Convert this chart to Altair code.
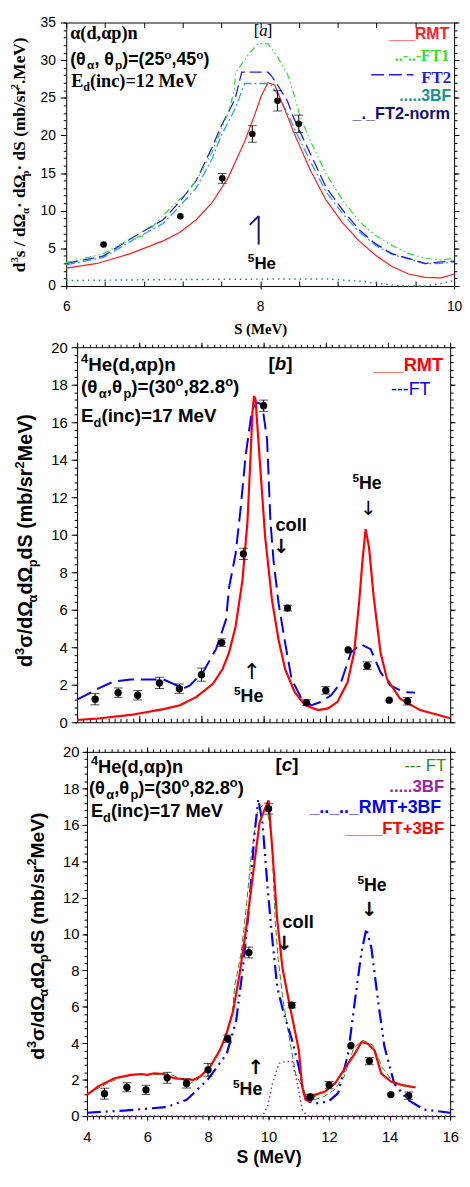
import altair as alt
import pandas as pd

SANS = "Liberation Sans"
SERIF = "Liberation Serif"
SYM = "DejaVu Sans"

# ---------------- panel [a] : alpha(d,alpha p)n, Ed = 12 MeV ----------------
a_exp_S = [6.385, 7.177, 7.609, 7.919, 8.179, 8.398]
a_exp_Y = [5.52, 9.27, 14.3, 20.2, 24.6, 21.55]
a_exp_E = [0.0, 0.0, 0.65, 1.1, 1.35, 1.15]

a_rmt_S = [6.0, 6.32, 6.66, 7.0, 7.17, 7.34, 7.50, 7.67, 7.84, 7.94, 8.01, 8.08, 8.15,
           8.21, 8.28, 8.35, 8.52, 8.68, 8.85, 9.02, 9.19, 9.36, 9.53, 9.70, 9.87, 10.0]
a_rmt_Y = [2.37, 3.0, 4.3, 6.0, 7.1, 8.8, 11.0, 14.4, 19.2, 22.6, 25.2, 27.0, 26.7,
           24.8, 22.6, 20.3, 15.3, 11.4, 8.4, 6.0, 4.1, 2.6, 1.6, 1.16, 1.08, 1.6]

a_ft1_S = [6.0, 6.385, 6.66, 6.8, 7.07, 7.25, 7.34, 7.5, 7.59, 7.67, 7.735, 7.745, 7.88,
           7.98, 8.08, 8.18, 8.28, 8.35, 8.41, 8.52, 8.68, 8.85, 9.02, 9.19, 9.36, 9.53,
           9.7, 9.87, 10.0]
a_ft1_Y = [3.1, 4.3, 6.25, 6.7, 10.3, 12.5, 14.0, 17.7, 20.5, 23.0, 26.0, 28.3, 30.8,
           32.2, 32.2, 30.4, 28.2, 25.4, 22.6, 19.2, 14.9, 11.4, 8.6, 6.7, 5.4, 4.3,
           3.7, 3.45, 3.7]

a_ft2_S = [6.0, 6.385, 6.66, 7.0, 7.17, 7.34, 7.5, 7.6, 7.74, 7.81, 8.08, 8.11, 8.18,
           8.28, 8.35, 8.52, 8.68, 8.85, 9.02, 9.19, 9.36, 9.53, 9.7, 9.87, 10.0]
a_ft2_Y = [3.0, 4.0, 6.25, 8.8, 11.2, 14.0, 18.3, 21.3, 24.8, 28.4, 28.4, 28.0, 26.7,
           24.6, 22.2, 17.5, 13.1, 10.1, 7.5, 5.6, 4.3, 3.66, 3.0, 3.2, 3.3]

a_ft2n_S = [6.0, 6.385, 6.66, 7.0, 7.17, 7.34, 7.5, 7.6, 7.74, 7.84, 8.1, 8.18, 8.28,
            8.35, 8.52, 8.68, 8.85, 9.02, 9.19, 9.36, 9.53, 9.7, 9.87, 10.0]
a_ft2n_Y = [2.8, 3.8, 5.9, 8.3, 10.6, 13.0, 16.8, 20.0, 23.5, 26.9, 26.9, 25.5, 23.0,
            21.0, 16.5, 12.5, 9.6, 7.2, 5.4, 4.2, 3.6, 2.95, 3.0, 3.2]

a_3bf_S = [6.0, 7.0, 8.0, 8.68, 9.02, 9.36, 9.5, 9.7, 9.87, 10.0]
a_3bf_Y = [0.73, 0.85, 0.92, 0.95, 0.65, 0.13, 0.0, 0.0, 0.35, 0.73]

# ---------------- panels [b] and [c] : 4He(d,alpha p)n, Ed = 17 MeV ----------------
bc_exp_S = [4.58, 5.32, 5.95, 6.65, 7.29, 8.0, 8.65, 9.35, 10.0, 10.77, 11.38, 12.0,
            12.72, 13.33, 14.04, 14.63]
bc_exp_Y = [1.23, 1.58, 1.44, 2.1, 1.79, 2.54, 4.25, 8.98, 16.88, 6.09, 1.05, 1.7,
            3.86, 3.02, 1.18, 1.12]
bc_exp_E = [0.3, 0.25, 0.25, 0.3, 0.25, 0.35, 0.2, 0.3, 0.3, 0.15, 0.15, 0.2,
            0.0, 0.2, 0.0, 0.2]

b_rmt_S = [4.0, 4.67, 5.72, 6.78, 7.31, 7.84, 8.37, 8.68, 8.89, 9.1, 9.32, 9.48, 9.58,
           9.64, 9.69, 9.74, 9.79, 9.9, 10.05, 10.27, 10.48, 10.69, 11.0, 11.33, 11.75,
           12.07, 12.38, 12.7, 12.91, 13.07, 13.18, 13.28, 13.39, 13.54, 13.76, 13.97,
           14.39, 15.03, 16.0]
b_rmt_Y = [0.12, 0.2, 0.39, 0.7, 0.91, 1.35, 2.05, 2.84, 3.72, 5.12, 7.58, 10.7, 14.2,
           16.5, 17.4, 17.2, 16.0, 13.4, 9.86, 6.5, 4.4, 2.84, 1.6, 0.91, 0.65,
           0.74, 1.09, 2.14, 3.72, 6.35, 8.63, 10.3, 9.33, 6.7, 3.72, 2.3,
           1.26, 0.65, 0.21]

ft_S = [4.0, 4.67, 5.19, 5.72, 6.25, 6.78, 7.10, 7.41, 7.63, 8.05, 8.47, 8.79, 8.89,
        9.1, 9.26, 9.42, 9.63, 9.79, 9.95, 10.11, 10.22, 10.32, 10.48, 10.69, 10.90,
        11.22, 11.54, 11.85, 12.17, 12.49, 12.81, 13.12, 13.44, 13.76, 14.07, 14.50, 14.87]
ft_Y = [1.21, 1.79, 2.18, 2.28, 2.28, 2.28, 2.05, 1.8, 1.97, 2.67, 3.9, 5.47, 7.2,
        9.0, 11.4, 14.2, 16.7, 17.05, 16.96, 15.1, 10.7, 8.6, 6.35, 4.25, 2.3,
        1.26, 0.91, 1.09, 1.44, 2.14, 3.72, 4.16, 3.9, 2.67, 1.97, 1.61, 1.58]

c_ft3bf_S = [4.0, 4.37, 4.91, 5.46, 5.78, 6.0, 6.22, 6.54, 6.87, 7.2, 7.52, 7.74, 8.07,
             8.39, 8.61, 8.83, 9.04, 9.26, 9.48, 9.7, 9.86, 10.0, 10.13, 10.29, 10.46,
             10.67, 10.89, 11.0, 11.11, 11.22, 11.38, 11.54, 11.87, 12.2, 12.52, 12.85,
             13.07, 13.28, 13.5, 13.72, 14.04, 14.37, 14.86]
c_ft3bf_Y = [1.17, 1.63, 2.08, 2.26, 2.31, 2.26, 2.35, 2.31, 2.08, 2.02, 1.99, 2.17, 2.71,
             3.61, 4.52, 5.78, 7.77, 10.3, 13.2, 16.1, 16.8, 17.34, 14.5, 10.7, 8.13,
             6.32, 4.52, 3.61, 1.63, 0.9, 0.81, 1.17, 1.35, 1.8, 2.62, 3.43,
             4.07, 3.97, 3.61, 2.35, 1.9, 1.72, 1.57]

c_3bf_S = [4.0, 9.8, 9.97, 10.13, 10.35, 10.57, 10.78, 10.95, 11.11, 11.27, 16.0]
c_3bf_Y = [0.0, 0.0, 0.54, 1.8, 2.9, 3.0, 3.0, 1.8, 0.36, 0.0, 0.0]

c_rmt3bf_S = [4.0, 5.3, 6.65, 7.3, 7.99, 8.62, 8.93, 9.15, 9.37, 9.53, 9.66, 9.8, 9.97,
              10.13, 10.29, 10.51, 10.78, 11.0, 11.16, 11.33, 11.54, 11.98, 12.3, 12.63,
              12.85, 13.07, 13.23, 13.4, 13.62, 13.83, 14.15, 14.59, 15.13, 16.0]
c_rmt3bf_Y = [0.18, 0.31, 0.5, 0.9, 2.0, 3.43, 5.24, 8.1, 11.7, 15.4, 17.4, 16.1, 12.5,
              9.6, 7.05, 5.6, 4.15, 2.7, 1.26, 0.8, 0.69, 0.8, 1.26, 3.43,
              6.3, 9.0, 10.3, 9.2, 6.3, 3.8, 1.8, 0.9, 0.36, 0.18]

# ---------------- axis tick values ----------------
a_xticks = [6.0, 6.4, 6.8, 7.2, 7.6, 8.0, 8.4, 8.8, 9.2, 9.6, 10.0]
a_xlabels = [6, 8, 10]
a_yticks = list(range(0, 36))
a_ymajor = [0, 5, 10, 15, 20, 25, 30, 35]
bc_xticks = [round(4 + 0.2 * i, 1) for i in range(61)]
bc_xmajor = [4, 6, 8, 10, 12, 14, 16]
bc_yticks = [round(0.4 * i, 1) for i in range(51)]
bc_ymajor = [0, 2, 4, 6, 8, 10, 12, 14, 16, 18, 20]

# ---------------- layout (page pixels of each plot area) ----------------
ORIG_A = (68, 15)
ORIG_B = (68, 344)
ORIG_C = (68, 754)
WA, HA = 393, 267
WB, HB = 389, 380
WC, HC = 389, 369
GAP = ORIG_C[1] - (ORIG_B[1] + HB)            # spacing between b and c (30)
GA = ORIG_B[1] - ORIG_A[1] - GAP              # group height of panel a incl. its x-axis room
EXTRA_A = GA - HA

# ---------------- text helpers ----------------
W_SANS_B = {' ': .278, '(': .333, ')': .333, ',': .278, '.': .278, '/': .278, '-': .333,
            '_': .556, '=': .584, '+': .584, '[': .333, ']': .333,
            'B': .722, 'E': .667, 'F': .611, 'H': .722, 'M': .833, 'R': .722, 'S': .667,
            'T': .611, 'V': .667, 'a': .556, 'b': .611, 'c': .556, 'd': .611, 'e': .556,
            'i': .278, 'l': .278, 'm': .889, 'n': .611, 'o': .611, 'p': .611, 'r': .389,
            's': .556, 'α': .63, 'θ': .61, 'Ω': .77, 'σ': .63, '·': .278}
W_SANS = {' ': .278, '-': .333, '.': .278, 'F': .611, 'T': .611}
W_SERIF_B = {' ': .25, '(': .333, ')': .333, ',': .25, '.': .25, '/': .278, '-': .333,
             '=': .57, '[': .333, ']': .333, 'E': .667, 'F': .611, 'M': .944, 'S': .556,
             'T': .667, 'V': .722, 'a': .5, 'b': .556, 'c': .444, 'd': .556, 'e': .444,
             'i': .278, 'l': .278, 'm': .833, 'n': .556, 'o': .5, 'p': .556, 'r': .444,
             's': .389, 'α': .56, 'θ': .5, 'Ω': .77, '·': .25}
W_SERIF = {'[': .333, ']': .333, 'a': .444}


def tw(s, size, font, bold):
    if font == SERIF:
        tab, dflt = (W_SERIF_B, .5) if bold else (W_SERIF, .5)
    else:
        tab, dflt = (W_SANS_B, .556) if bold else (W_SANS, .556)
    return sum(tab.get(ch, dflt) for ch in s) * size


ONE = pd.DataFrame({"k": [0]})


def rich(segs, px, py, origin, color="black", font=SANS, bold=True, angle=0, anchor="left"):
    """segs: (text, size, rise[, italic]) ; rise>0 superscript, rise<0 subscript"""
    lx, ly = px - origin[0], py - origin[1]
    widths = [tw(s[0], s[1], font, bold) for s in segs]
    total = sum(widths)
    cum = {"left": 0, "right": -total, "center": -total / 2}[anchor]
    out = []
    for s, w in zip(segs, widths):
        kw = dict(text=s[0], font=font, fontSize=s[1], fontWeight="bold" if bold else "normal",
                  color=color, align="left", baseline="alphabetic", dx=cum, dy=-s[2])
        if len(s) > 3 and s[3]:
            kw["fontStyle"] = "italic"
        if angle:
            kw["angle"] = angle
        out.append(alt.Chart(ONE).mark_text(**kw).encode(x=alt.value(lx), y=alt.value(ly)))
        cum += w
    return out


def glyph(t, px, py, origin, size=20, bold=False, color="black"):
    return alt.Chart(ONE).mark_text(text=t, font=SYM, fontSize=size,
                                    fontWeight="bold" if bold else "normal", color=color,
                                    align="center", baseline="middle").encode(
        x=alt.value(px - origin[0]), y=alt.value(py - origin[1]))


def seg(p1, p2, origin, color, width=1.0, dash=None):
    mk = dict(color=color, strokeWidth=width)
    if dash:
        mk["strokeDash"] = dash
    return alt.Chart(ONE).mark_rule(**mk).encode(
        x=alt.value(p1[0] - origin[0]), x2=alt.value(p2[0] - origin[0]),
        y=alt.value(p1[1] - origin[1]), y2=alt.value(p2[1] - origin[1]))


def ax(orient, values, size, offset=0, domain=False, labels=False, label_size=14,
       label_pad=4, title=None, title_font=SANS, title_size=16, title_pad=6):
    kw = dict(orient=orient, values=values, offset=offset, grid=False, domain=domain,
              domainColor="black", domainWidth=1, ticks=True, tickColor="black", tickWidth=1,
              tickSize=size, labels=labels, title=title, minExtent=0)
    if labels:
        kw.update(labelFont=SANS, labelFontSize=label_size, labelColor="black",
                  labelPadding=label_pad, labelOverlap=False, labelFlush=False, format="d")
    if title:
        kw.update(titleFont=title_font, titleFontSize=title_size, titleFontWeight="bold",
                  titleColor="black", titlePadding=title_pad)
    return alt.Axis(**kw)


def axis_layers(xs, ys, x0, pairs):
    df = pd.DataFrame({"S": [x0], "Y": [0]})
    out = []
    for xa, ya in pairs:
        out.append(alt.Chart(df).mark_point(opacity=0).encode(
            x=alt.X("S:Q", scale=xs, axis=xa), y=alt.Y("Y:Q", scale=ys, axis=ya)))
    return out


def line(S, Y, xs, ys, color, width=1.0, dash=None):
    df = pd.DataFrame({"S": S, "Y": Y})
    mk = dict(color=color, strokeWidth=width)
    if dash:
        mk["strokeDash"] = dash
    return alt.Chart(df).mark_line(**mk).encode(
        x=alt.X("S:Q", scale=xs, axis=None), y=alt.Y("Y:Q", scale=ys, axis=None))


def exp_layers(S, Y, E, xs, ys, size):
    df = pd.DataFrame({"S": S, "Y": Y, "E": E})
    df["lo"] = df["Y"] - df["E"]
    df["hi"] = df["Y"] + df["E"]
    base = alt.Chart(df)
    X = alt.X("S:Q", scale=xs, axis=None)
    bars = base.transform_filter("datum.E > 0")
    return [
        bars.mark_rule(color="black", strokeWidth=1).encode(
            x=X, y=alt.Y("lo:Q", scale=ys, axis=None), y2="hi:Q"),
        bars.mark_tick(color="black", orient="horizontal", size=9, thickness=1).encode(
            x=X, y=alt.Y("lo:Q", scale=ys, axis=None)),
        bars.mark_tick(color="black", orient="horizontal", size=9, thickness=1).encode(
            x=X, y=alt.Y("hi:Q", scale=ys, axis=None)),
        base.mark_circle(color="black", opacity=1, size=size).encode(
            x=X, y=alt.Y("Y:Q", scale=ys, axis=None)),
    ]


# =================== panel a ===================
xs_a = alt.Scale(domain=[6, 10], nice=False, zero=False)
ys_a = alt.Scale(domain=[0, 35], nice=False, range=[HA, 0])

la = axis_layers(xs_a, ys_a, 6, [
    (ax("bottom", a_xlabels, 3, offset=-EXTRA_A, domain=True, labels=True, label_size=14,
        label_pad=11, title="S (MeV)", title_font=SERIF, title_size=15, title_pad=8),
     ax("left", a_ymajor, 6, domain=True, labels=True, label_size=14, label_pad=5)),
    (ax("top", a_xticks, 5, offset=-HA), ax("left", a_yticks, 3)),
    (ax("bottom", a_xticks, 5, offset=-GA, domain=True), ax("right", a_ymajor, 5, domain=True)),
    (None, ax("right", a_yticks, 3)),
])
la.append(line(a_3bf_S, a_3bf_Y, xs_a, ys_a, "#118888", 1.5, [1.5, 4]))
la.append(line(a_ft2n_S, a_ft2n_Y, xs_a, ys_a, "#3399ff", 1.3, [9, 3, 2, 3]))
la.append(line(a_ft2_S, a_ft2_Y, xs_a, ys_a, "#2020e0", 1.3, [12, 5]))
la.append(line(a_ft1_S, a_ft1_Y, xs_a, ys_a, "#33dd33", 1.2, [7, 3, 1.5, 3, 1.5, 3]))
la.append(line(a_rmt_S, a_rmt_Y, xs_a, ys_a, "#ff2020", 1.2))
la += exp_layers(a_exp_S, a_exp_Y, a_exp_E, xs_a, ys_a, 45)

la += rich([("α(d,αp)n", 18.5, 0)], 72, 32, ORIG_A, font=SERIF)
la += rich([("(θ", 18, 0), ("α", 12, -4), (", θ", 18, 0), ("p", 12, -4), (")=(25", 18, 0),
            ("o", 12, 6), (",45", 18, 0), ("o", 12, 6), (")", 18, 0)], 72, 58, ORIG_A)
la += rich([("E", 18.5, 0), ("d", 12, -4), ("(inc)=12 MeV", 18.5, 0)], 73, 80, ORIG_A, font=SERIF)
la += rich([("[", 17, 0), ("a", 17, 0, True), ("]", 17, 0)], 258, 29, ORIG_A, font=SERIF, bold=False)
la += rich([("___RMT", 16, 0)], 456, 32, ORIG_A, color="#ff2020", anchor="right")
la += rich([("..-..-FT1", 16, 0)], 456, 54, ORIG_A, color="#33dd33", font=SERIF, anchor="right")
la += rich([("FT2", 17, 0)], 458, 76, ORIG_A, color="#2020e0", font=SERIF, anchor="right")
la.append(seg((377, 68), (420, 68), ORIG_A, "#2020e0", 1.5, [13, 5]))
la += rich([(".....3BF", 16, 0)], 458, 95, ORIG_A, color="#1a8f8f", anchor="right")
la += rich([("_._FT2-norm", 16.5, 0)], 457, 113, ORIG_A, color="#10107a", anchor="right")
la += rich([("5", 12, 7), ("He", 17, 0)], 252, 265, ORIG_A)
la.append(seg((263, 240), (263, 211), ORIG_A, "#1a1a6e", 2))
la.append(seg((254, 220), (263, 211), ORIG_A, "#1a1a6e", 2))
la += rich([("d", 17.5, 0), ("3", 11, 7), ("s / d", 17.5, 0), ("Ω", 17.5, 0), ("α", 11, -4),
            ("· dΩ", 17.5, 0), ("p", 11, -4), ("· dS (mb/sr", 17.5, 0), ("2", 11, 7),
            (".MeV)", 17.5, 0)], 26, 268, ORIG_A, font=SERIF, angle=270)

panel_a = alt.layer(*la).resolve_axis(x="independent", y="independent").properties(
    width=WA, height=GA)

# =================== panel b ===================
xs_b = alt.Scale(domain=[4, 16], nice=False, zero=False, range=[11, WB])
ys_b = alt.Scale(domain=[0, 20], nice=False)

lb = axis_layers(xs_b, ys_b, 4, [
    (ax("top", bc_xmajor, 7, offset=-HB, domain=True),
     ax("left", bc_ymajor, 6, offset=-11, domain=True, labels=True, label_size=15, label_pad=4)),
    (ax("top", bc_xticks, 4, offset=-HB), ax("left", bc_yticks, 3, offset=-11)),
    (ax("top", bc_xmajor, 5, domain=True), ax("right", bc_ymajor, 5, domain=True)),
    (ax("top", bc_xticks, 3), ax("right", bc_yticks, 3)),
])
lb.append(line(ft_S, ft_Y, xs_b, ys_b, "#0000ff", 2, [16, 7]))
lb.append(line(b_rmt_S, b_rmt_Y, xs_b, ys_b, "#ff0000", 2.2))
lb += exp_layers(bc_exp_S, bc_exp_Y, bc_exp_E, xs_b, ys_b, 55)

lb += rich([("4", 13, 8), ("He(d,αp)n", 19, 0)], 83, 368, ORIG_B)
lb += rich([("(θ", 19, 0), ("α", 13, -5), (",θ", 19, 0), ("p", 13, -5), (")=(30", 19, 0),
            ("o", 13, 7), (",82.8", 19, 0), ("o", 13, 7), (")", 19, 0)], 83, 390, ORIG_B)
lb += rich([("E", 19, 0), ("d", 13, -5), ("(inc)=17 MeV", 19, 0)], 83, 420, ORIG_B)
lb += rich([("[", 19, 0), ("b", 19, 0, True), ("]", 19, 0)], 273, 367, ORIG_B)
lb += rich([("___RMT", 18.5, 0)], 450, 368, ORIG_B, color="#ff0000", anchor="right")
lb += rich([("---FT", 18, 0)], 437, 392, ORIG_B, color="#0000ff", bold=False, anchor="right")
lb += rich([("coll", 18.5, 0)], 280, 530, ORIG_B)
lb.append(glyph("↓", 286, 547, ORIG_B, 20, True))
lb += rich([("5", 12, 7), ("He", 18, 0)], 358, 488, ORIG_B)
lb.append(glyph("↓", 374, 508, ORIG_B, 20, False))
lb += rich([("5", 12, 7), ("He", 18, 0)], 238, 703, ORIG_B)
lb.append(glyph("↑", 256, 673, ORIG_B, 22, False))
lb += rich([("d", 20, 0), ("3", 13, 8), ("σ/dΩ", 20, 0), ("α", 13, -5), ("dΩ", 20, 0),
            ("p", 13, -5), ("dS (mb/sr", 20, 0), ("2", 13, 8), ("MeV)", 20, 0)],
           33, 668, ORIG_B, angle=270)

panel_b = alt.layer(*lb).resolve_axis(x="independent", y="independent").properties(
    width=WB, height=HB)

# =================== panel c ===================
xs_c = alt.Scale(domain=[4, 16], nice=False, zero=False, range=[21, WC])
ys_c = alt.Scale(domain=[0, 20], nice=False)

lc = axis_layers(xs_c, ys_c, 4, [
    (ax("bottom", bc_xmajor, 4, domain=True, labels=True, label_size=15, label_pad=10,
        title="S (MeV)", title_size=18, title_pad=4),
     ax("left", bc_ymajor, 5, offset=-21, domain=True, labels=True, label_size=15, label_pad=3)),
    (ax("bottom", bc_xticks, 3), ax("left", bc_yticks, 3, offset=-21)),
    (ax("top", bc_xmajor, 5, domain=True), ax("right", bc_ymajor, 5, domain=True)),
    (ax("top", bc_xticks, 3), ax("right", bc_yticks, 3)),
])
lc.append(line(c_3bf_S, c_3bf_Y, xs_c, ys_c, "#a020a0", 1.5, [1.5, 3]))
lc.append(line(ft_S, ft_Y, xs_c, ys_c, "#1f8f1f", 1, [6, 3]))
lc.append(line(c_rmt3bf_S, c_rmt3bf_Y, xs_c, ys_c, "#0000ff", 2.2, [14, 5, 2, 5, 2, 5]))
lc.append(line(c_ft3bf_S, c_ft3bf_Y, xs_c, ys_c, "#ff0000", 2.2))
lc += exp_layers(bc_exp_S, bc_exp_Y, bc_exp_E, xs_c, ys_c, 55)

lc += rich([("4", 13, 8), ("He(d,αp)n", 18.5, 0)], 93, 775, ORIG_C)
lc += rich([("(θ", 18.5, 0), ("α", 13, -5), (",θ", 18.5, 0), ("p", 13, -5), (")=(30", 18.5, 0),
            ("o", 13, 7), (",82.8", 18.5, 0), ("o", 13, 7), (")", 18.5, 0)], 91, 797, ORIG_C)
lc += rich([("E", 18.5, 0), ("d", 13, -5), ("(inc)=17 MeV", 18.5, 0)], 93, 820, ORIG_C)
lc += rich([("[", 19, 0), ("c", 19, 0, True), ("]", 19, 0)], 280, 773, ORIG_C)
lc += rich([("--- FT", 17, 0)], 453, 773, ORIG_C, color="#1f8f1f", bold=False, anchor="right")
lc += rich([(".....3BF", 17, 0)], 451, 795, ORIG_C, color="#a020a0", anchor="right")
lc += rich([("_.._.._RMT+3BF", 18, 0)], 448, 816, ORIG_C, color="#0000ff", anchor="right")
lc += rich([("____FT+3BF", 17, 0)], 451, 837, ORIG_C, color="#ff0000", anchor="right")
lc += rich([("5", 12, 7), ("He", 18, 0)], 363, 895, ORIG_C)
lc.append(glyph("↓", 375, 914, ORIG_C, 20, True))
lc += rich([("coll", 18.5, 0)], 287, 932, ORIG_C)
lc.append(glyph("↓", 289, 949, ORIG_C, 20, True))
lc += rich([("5", 12, 7), ("He", 18, 0)], 237, 1102, ORIG_C)
lc.append(glyph("↑", 260, 1074, ORIG_C, 20, True))
lc += rich([("d", 19.5, 0), ("3", 13, 8), ("σ/dΩ", 19.5, 0), ("α", 13, -5), ("dΩ", 19.5, 0),
            ("p", 13, -5), ("dS (mb/sr", 19.5, 0), ("2", 13, 8), ("MeV)", 19.5, 0)],
           45, 1066, ORIG_C, angle=270)

panel_c = alt.layer(*lc).resolve_axis(x="independent", y="independent").properties(
    width=WC, height=HC)

chart = alt.vconcat(panel_a, panel_b, panel_c, spacing=GAP, bounds="flush",
                    padding=0).configure_view(stroke=None)

chart.save("out.html", embed_options={"renderer": "svg", "actions": False})
